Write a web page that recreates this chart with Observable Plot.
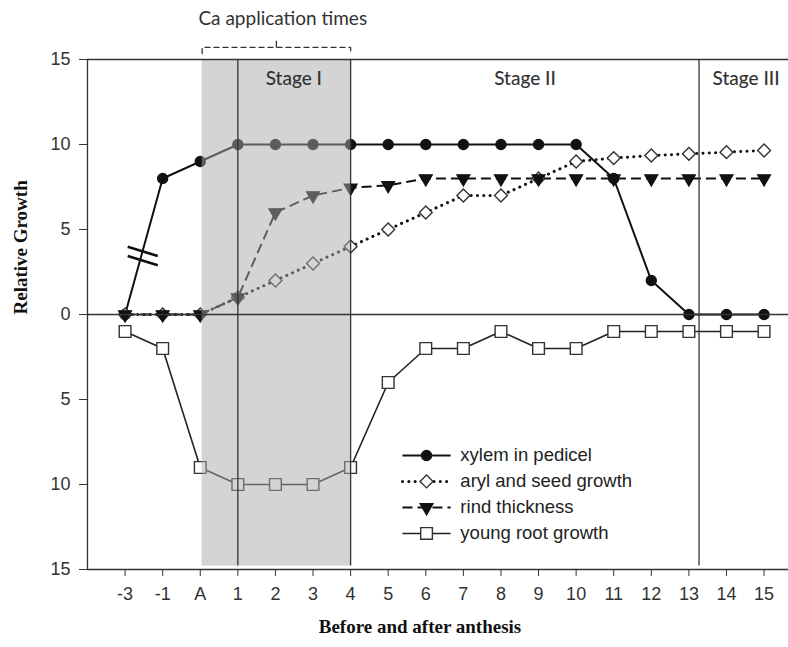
<!DOCTYPE html>
<html><head><meta charset="utf-8">
<script src="https://cdn.jsdelivr.net/npm/d3@7"></script>
<script src="https://cdn.jsdelivr.net/npm/@observablehq/plot@0.6"></script>
<style>body{margin:0;background:#fff}</style>
</head><body><div id="chart"></div>
<script>
// ---- data ----
const categories = ["-3","-1","A","1","2","3","4","5","6","7","8","9","10","11","12","13","14","15"];
const xylem     = [0, 8, 9, 10, 10, 10, 10, 10, 10, 10, 10, 10, 10, 8, 2, 0, 0, 0];
const aryl      = [0, 0, 0, 1, 2, 3, 4, 5, 6, 7, 7, 8, 9, 9.2, 9.35, 9.45, 9.55, 9.65];
const rind      = [0, 0, 0, 1, 6, 7, 7.45, 7.6, 8, 8, 8, 8, 8, 8, 8, 8, 8, 8];
const youngRoot = [-1, -2, -9, -10, -10, -10, -9, -4, -2, -2, -1, -2, -2, -1, -1, -1, -1, -1];
const yTicks = [-15, -10, -5, 0, 5, 10, 15];
const seriesNames = ["xylem in pedicel", "aryl and seed growth", "rind thickness", "young root growth"];
const stageLabels = ["Stage I", "Stage II", "Stage III"];
const stageLabelPos = [4.49, 10.64, 16.52];
const stageBoundaries = [3, 6, 15.27];
const caWindow = [2.05, 6];
const caLabel = "Ca application times";

// ---- styles ----
const styles = [
  {stroke: "#111", strokeWidth: 2, dash: null, symbol: "circle", r: 5, fill: "#111", mstroke: "#111", rotate: 0},
  {stroke: "#111", strokeWidth: 3, dash: "0.1 6.2", cap: "round", symbol: "diamond2", r: 5.8, fill: "white", mstroke: "#333", rotate: 0},
  {stroke: "#111", strokeWidth: 2, dash: "10 5", symbol: "triangle", r: 4.7, fill: "#111", mstroke: "#111", rotate: 180},
  {stroke: "#222", strokeWidth: 1.6, dash: null, symbol: "square", r: 6.6, fill: "white", mstroke: "#333", rotate: 0}
];
const seriesValues = [xylem, aryl, rind, youngRoot];
const idx = categories.map((_, i) => i);

const marks = [];
// lines
seriesValues.forEach((vals, s) => {
  const st = styles[s];
  marks.push(Plot.line(idx, {x: i => i, y: i => vals[i], stroke: st.stroke, strokeWidth: st.strokeWidth,
    strokeDasharray: st.dash || undefined, strokeLinecap: st.cap || "butt"}));
});
// break mark on the first xylem segment
{
  const t = 0.43;
  const cx = t, cy = xylem[0] + t * (xylem[1] - xylem[0]);
  const bars = [-1, 1].map(s => ({cx: cx + 0.04, cy: cy + s * 0.27}));
  marks.push(Plot.link(bars, {x1: d => d.cx - 0.4, y1: d => d.cy + 0.27, x2: d => d.cx + 0.4, y2: d => d.cy - 0.27,
    stroke: "#111", strokeWidth: 2.6}));
}
// markers
seriesValues.forEach((vals, s) => {
  const st = styles[s];
  marks.push(Plot.dot(idx, {x: i => i, y: i => vals[i], symbol: st.symbol, r: st.r, fill: st.fill,
    stroke: st.mstroke, strokeWidth: 1.4, rotate: st.rotate}));
});
// shaded Ca application window
marks.push(Plot.rect([caWindow], {x1: d => d[0], x2: d => d[1], y1: -14.8, y2: 15, fill: "#aaa", fillOpacity: 0.5}));
// frame and reference lines
marks.push(Plot.ruleY([0], {stroke: "#333", strokeWidth: 1.3}));
marks.push(Plot.ruleY([15], {stroke: "#333", strokeWidth: 1.3}));
marks.push(Plot.ruleY([-15], {stroke: "#333", strokeWidth: 1.3}));
marks.push(Plot.ruleX([-1], {y1: -15, y2: 15, stroke: "#333", strokeWidth: 1.3}));
marks.push(Plot.ruleX(stageBoundaries, {y1: -14.8, y2: 15, stroke: "#333", strokeWidth: 1.3}));
// axes
marks.push(Plot.axisX({ticks: idx, tickFormat: i => categories[i], tickSize: 7, tickPadding: 11, fontSize: 18, color: "#333", label: null}));
marks.push(Plot.axisY({ticks: yTicks, tickFormat: d => Math.abs(d), tickSize: 8, tickPadding: 9, fontSize: 18, color: "#333", label: null}));
// stage labels
marks.push(Plot.text(stageLabels, {x: (d, i) => stageLabelPos[i], y: 13.85, text: d => d, fontFamily: "Lato", fontSize: 19, fontWeight: 500, fill: "#333"}));
// Ca bracket
const bTop = 15.71, bEnd = 15.35;
marks.push(Plot.line([[caWindow[0], bEnd], [caWindow[0], bTop], [caWindow[1], bTop], [caWindow[1], bEnd]],
  {x: d => d[0], y: d => d[1], stroke: "#333", strokeWidth: 1.3, strokeDasharray: "5 4"}));
const notchX = (caWindow[0] + caWindow[1]) / 2;
marks.push(Plot.link([notchX], {x1: d => d, x2: d => d, y1: bTop, y2: 16.1, stroke: "#333", strokeWidth: 1.3}));
marks.push(Plot.text([caLabel], {x: notchX + 0.17, y: 17.4, text: d => d, fontFamily: "Lato", fontSize: 19, fill: "#333"}));
// legend
const legend = seriesNames.map((name, k) => ({name, k, y: -8.29 - 1.53 * k}));
legend.forEach(d => {
  const st = styles[d.k];
  marks.push(Plot.link([d], {x1: 7.38, x2: 8.66, y1: e => e.y, y2: e => e.y, stroke: st.stroke, strokeWidth: st.strokeWidth,
    strokeDasharray: st.dash || undefined, strokeLinecap: st.cap || "butt"}));
  marks.push(Plot.dot([d], {x: 8.02, y: e => e.y, symbol: st.symbol, r: st.r, fill: st.fill, stroke: st.mstroke, strokeWidth: 1.4, rotate: st.rotate}));
});
marks.push(Plot.text(legend, {x: 8.92, y: d => d.y, text: d => d.name, textAnchor: "start", fontSize: 18.5, fill: "#222"}));
// axis titles
marks.push(Plot.text(["Before and after anthesis"], {frameAnchor: "bottom", dy: 63, dx: -18, fontFamily: "Liberation Serif", fontWeight: "bold", fontSize: 19, fill: "#111"}));
marks.push(Plot.text(["Relative Growth"], {frameAnchor: "left", dx: -67, rotate: -90, fontFamily: "Liberation Serif", fontWeight: "bold", fontSize: 19, fill: "#111"}));

const chart = Plot.plot({
  width: 788, height: 647,
  marginLeft: 87, marginRight: 0, marginTop: 59, marginBottom: 78,
  x: {domain: [-1, 17.65]},
  y: {domain: [-15, 15]},
  style: {fontFamily: "Liberation Sans", fontSize: "18px", background: "white", overflow: "visible"},
  marks
});
document.getElementById("chart").appendChild(chart);
</script>
</body></html>
